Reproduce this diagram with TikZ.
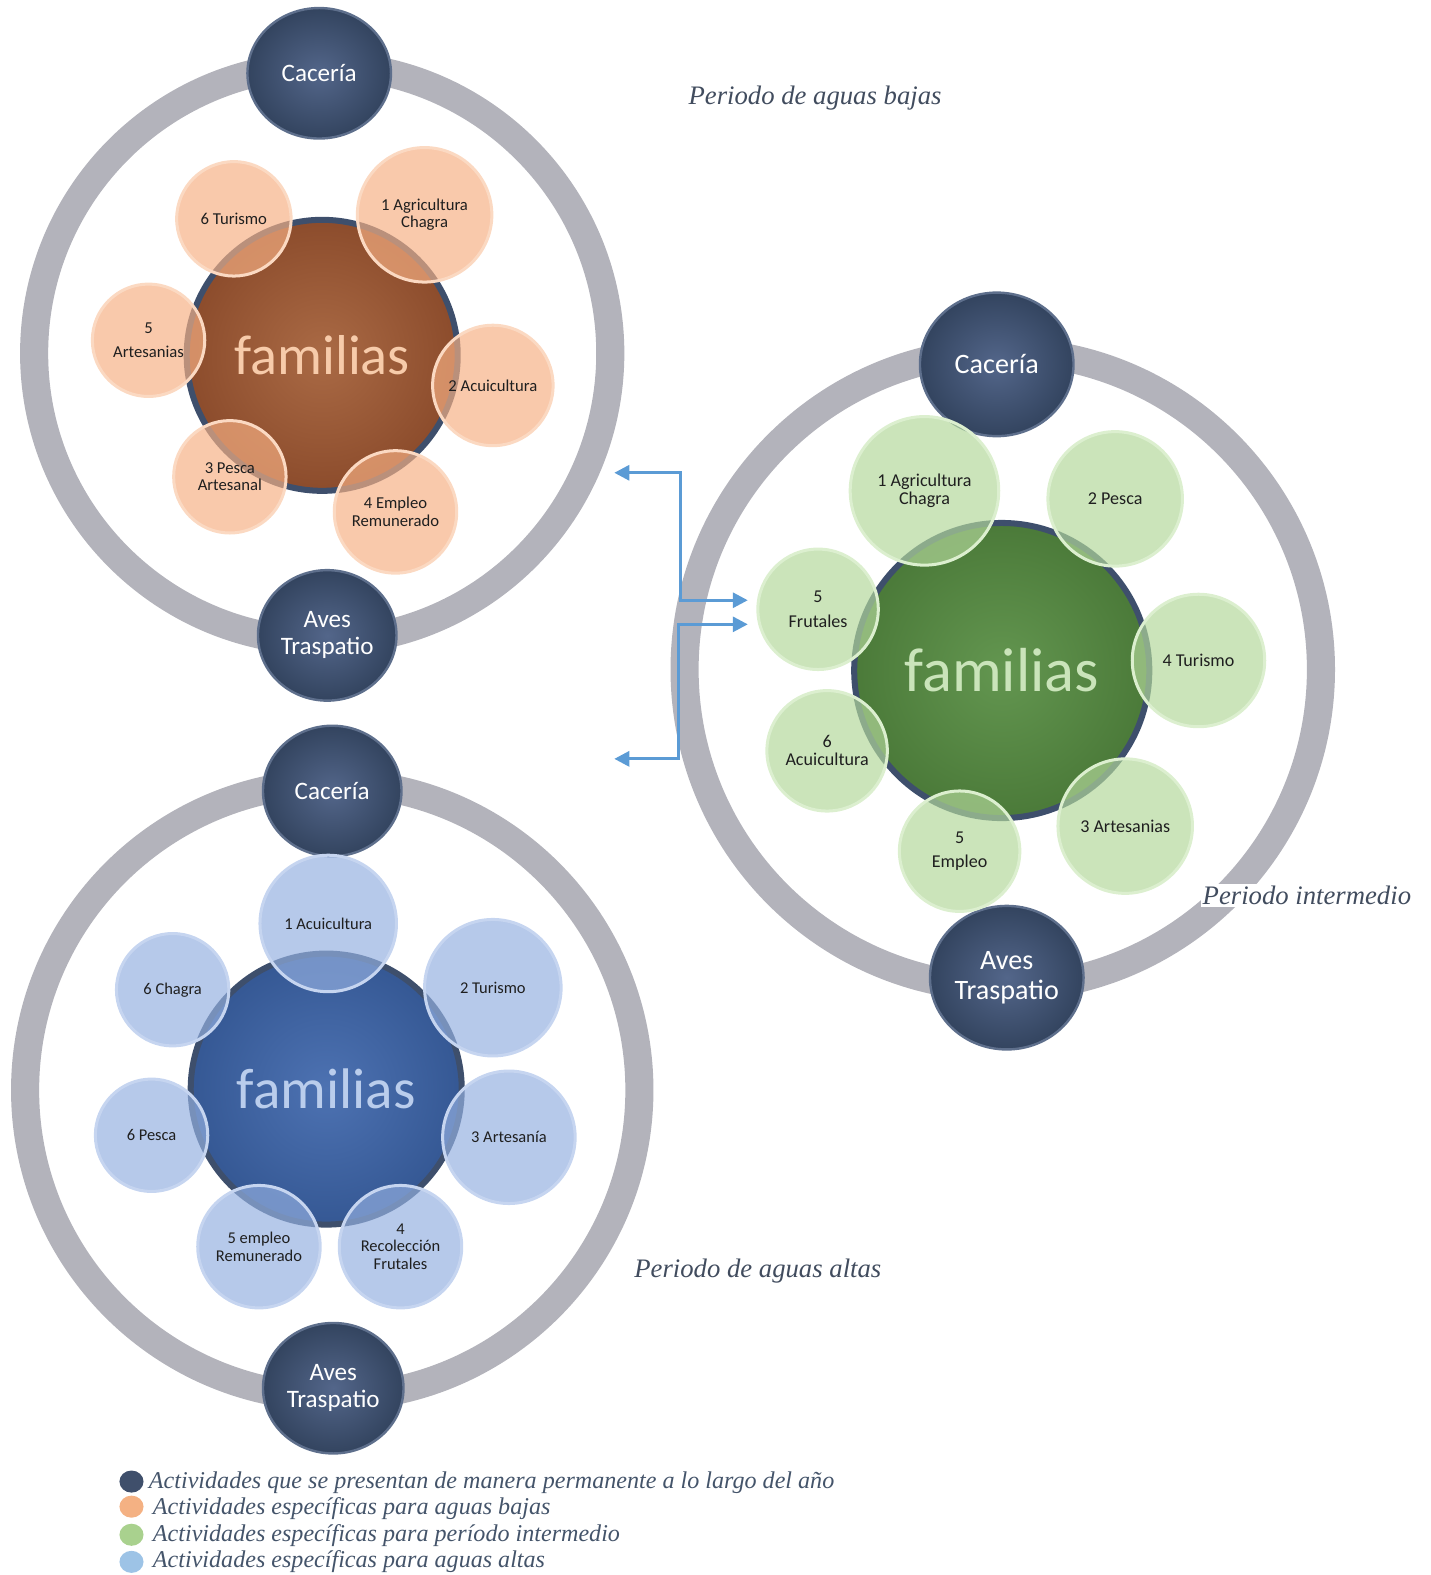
\documentclass[tikz,border=0pt]{standalone}
\usepackage{fontspec}
\setmainfont{Liberation Serif}
\newfontfamily\carlito{Carlito}
\usetikzlibrary{arrows.meta,shapes.geometric}
\definecolor{ringgray}{HTML}{B3B3BB}
\definecolor{navyin}{HTML}{53668A}
\definecolor{navyout}{HTML}{33445F}
\definecolor{navyedge}{HTML}{5E6F8C}
\definecolor{brownin}{HTML}{AA6A45}
\definecolor{brownout}{HTML}{8C4C2C}
\definecolor{greenin}{HTML}{639650}
\definecolor{greenout}{HTML}{4B7A39}
\definecolor{bluein}{HTML}{4D72B2}
\definecolor{blueout}{HTML}{355894}
\definecolor{cedge}{HTML}{3E4F6C}
\definecolor{orsat}{HTML}{F6AF83}
\definecolor{oredge}{HTML}{FBD9C2}
\definecolor{grsat}{HTML}{B2D79A}
\definecolor{gredge}{HTML}{DCEFCF}
\definecolor{blsat}{HTML}{93AFE0}
\definecolor{bledge}{HTML}{C6D5F0}
\definecolor{ortext}{HTML}{F7CBAA}
\definecolor{grtext}{HTML}{CAE4BA}
\definecolor{bltext}{HTML}{BACDEC}
\definecolor{captext}{HTML}{414C5E}
\definecolor{legtext}{HTML}{44546A}
\definecolor{arrowblue}{HTML}{5B9BD5}
\definecolor{lnavy}{HTML}{3F4F6B}
\definecolor{lorange}{HTML}{F4B183}
\definecolor{lgreen}{HTML}{A9D18E}
\definecolor{lblue}{HTML}{9DC3E6}
\tikzset{
  ringst/.style={circle, draw=ringgray, line width=14pt, inner sep=0pt},
  navyball/.style={ellipse, inner sep=0pt, shading=radial, inner color=navyin, outer color=navyout,
    draw=navyedge, line width=1.2pt, text=white, align=center},
  navyA/.style={navyball, font=\carlito\fontsize{12.5}{13.5}\selectfont},
  navyB/.style={navyball, font=\carlito\fontsize{14}{15}\selectfont},
  centerball/.style={circle, inner sep=0pt, draw=cedge, line width=3pt},
  corange/.style={centerball, shading=radial, inner color=brownin, outer color=brownout, text=ortext},
  cgreen/.style={centerball, shading=radial, inner color=greenin, outer color=greenout, text=grtext},
  cblue/.style={centerball, shading=radial, inner color=bluein, outer color=blueout, text=bltext},
  sat/.style={circle, inner sep=0pt, line width=1.5pt, fill opacity=0.68, text opacity=1,
    text=black!88, align=center},
  satO/.style={sat, fill=orsat, draw=oredge, font=\carlito\fontsize{8.3}{8.8}\selectfont},
  satG/.style={sat, fill=grsat, draw=gredge, font=\carlito\fontsize{9}{12}\selectfont},
  satB/.style={sat, fill=blsat, draw=bledge, font=\carlito\fontsize{8.2}{8.8}\selectfont},
  caption/.style={font=\itshape\fontsize{13.3}{15}\selectfont, text=captext, inner sep=1pt},
  legdot/.style={ellipse, inner sep=0pt, minimum width=12pt, minimum height=11pt},
  legtxt/.style={anchor=base west, font=\itshape\fontsize{12}{13}\selectfont, text=legtext, inner sep=0pt},
  link/.style={draw=arrowblue, line width=1.5pt,
    {Triangle[length=7.5pt,width=7.5pt]}-{Triangle[length=7.5pt,width=7.5pt]}}
}
\begin{document}
\begin{tikzpicture}[x=0.5pt,y=-0.5pt]
\useasboundingbox (0,0) rectangle (1425.6,1569.1);

% ---------- Diagram 1: aguas bajas ----------
\node[ringst, minimum size=287pt] (r1) at (321,352) {};
\node[navyA, minimum width=71.5pt, minimum height=65pt] (cac1) at (318,73) {Cacería};
\node[navyA, minimum width=69pt, minimum height=65pt] (ave1) at (326,633) {Aves\\Traspatio};
\node[corange, minimum size=135pt, font=\carlito\fontsize{28}{30}\selectfont] (fam1) at (321,354) {familias};
\node[satO, minimum size=57pt] (a16) at (233,218) {6 Turismo};
\node[satO, minimum size=67pt] (a11) at (423,214) {1 Agricultura\\Chagra};
\node[satO, minimum size=56pt] (a15) at (148,339) {5\\[3pt]Artesanias};
\node[satO, minimum size=60pt] (a12) at (491,384) {2 Acuicultura};
\node[satO, minimum size=56pt] (a13) at (229,475) {3 Pesca\\Artesanal};
\node[satO, minimum size=61pt] (a14) at (394,510) {4 Empleo\\Remunerado};
\node[caption] (t1) at (812,98) {Periodo de aguas bajas};

% ---------- Diagram 2: intermedio ----------
\node[ringst, minimum size=317pt] (r2) at (999,667) {};
\node[navyB, minimum width=76.5pt, minimum height=71.5pt] (cac2) at (993,363) {Cacería};
\node[navyB, minimum width=76.5pt, minimum height=71.5pt] (ave2) at (1003,974) {Aves\\Traspatio};
\node[cgreen, minimum size=147pt, font=\carlito\fontsize{31}{33}\selectfont] (fam2) at (998,668) {familias};
\node[satG, minimum size=74pt] (b1) at (921,489) {1 Agricultura\\[-3pt]Chagra};
\node[satG, minimum size=67pt] (b2) at (1111,497) {2 Pesca};
\node[satG, minimum size=60pt] (b5) at (815,607) {5\\Frutales};
\node[satG, minimum size=66pt] (b4) at (1194,658) {4 Turismo};
\node[satG, minimum size=60pt] (b6) at (824,748) {6\\[-3pt]Acuicultura};
\node[satG, minimum size=67pt] (b3) at (1121,823) {3 Artesanias};
\node[satG, minimum size=60pt] (b7) at (956,848) {5\\Empleo};
\node[caption, fill=white] (t2) at (1302,892) {Periodo intermedio};

% ---------- Diagram 3: aguas altas ----------
\node[ringst, minimum size=306pt] (r3) at (331,1086) {};
\node[navyA, minimum width=69pt, minimum height=65pt] (cac3) at (331,788) {Cacería};
\node[navyA, minimum width=70pt, minimum height=65pt] (ave3) at (332,1383) {Aves\\Traspatio};
\node[cblue, minimum size=135pt, font=\carlito\fontsize{28.5}{30}\selectfont] (fam3) at (325,1085) {familias};
\node[satB, minimum size=68pt] (c1) at (327,920) {1 Acuicultura};
\node[satB, minimum size=68pt] (c2) at (491,984) {2 Turismo};
\node[satB, minimum size=56pt] (c6) at (172,986) {6 Chagra};
\node[satB, minimum size=56pt] (c7) at (151,1131) {6 Pesca};
\node[satB, minimum size=66pt] (c3) at (507,1133) {3 Artesanía};
\node[satB, minimum size=61pt] (c5) at (258,1242) {5 empleo\\Remunerado};
\node[satB, minimum size=61pt] (c4) at (399,1242) {4\\Recolección\\Frutales};
\node[caption] (t3) at (755,1266) {Periodo de aguas altas};

% ---------- Arrows ----------
\coordinate (p1) at (612,471);
\coordinate (p2) at (745,598);
\coordinate (p3) at (745,622);
\coordinate (p4) at (612,756);
\draw[link] (p1) -- (678,471) -- (678,598) -- (p2);
\draw[link] (p3) -- (676,622) -- (676,756) -- (p4);

% ---------- Legend ----------
\node[legdot, fill=lnavy] (l1) at (131,1476) {};
\node[legdot, fill=lorange] (l2) at (131,1501) {};
\node[legdot, fill=lgreen] (l3) at (131,1529) {};
\node[legdot, fill=lblue] (l4) at (131,1556) {};
\node[legtxt] (lt1) at (148,1483) {Actividades que se presentan de manera permanente a lo largo del año};
\node[legtxt] (lt2) at (152,1509) {Actividades específicas para aguas bajas};
\node[legtxt] (lt3) at (152,1536) {Actividades específicas para período intermedio};
\node[legtxt] (lt4) at (152,1562) {Actividades específicas para aguas altas};
\end{tikzpicture}
\end{document}
